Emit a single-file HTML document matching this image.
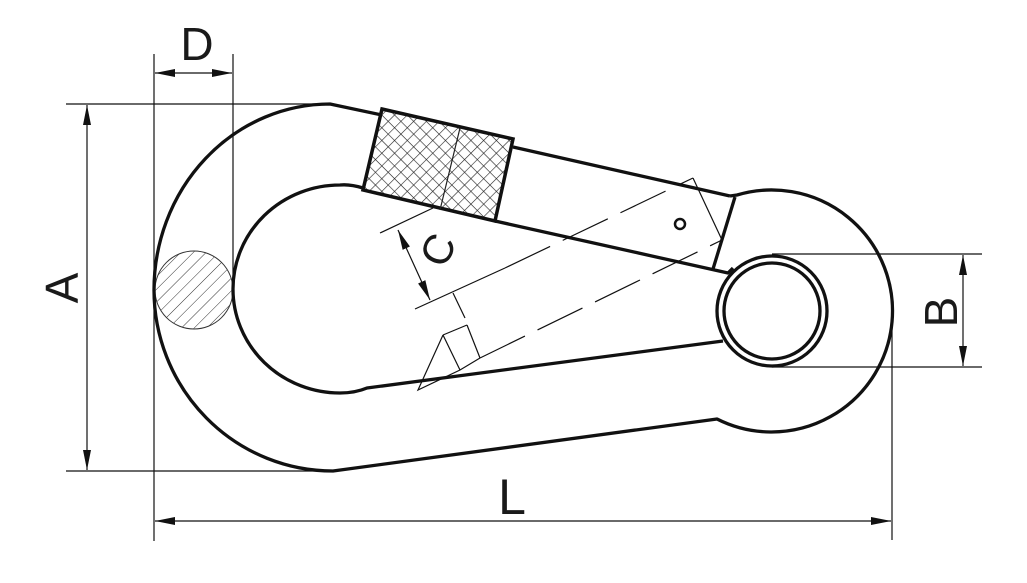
<!DOCTYPE html>
<html><head><meta charset="utf-8"><style>
html,body{margin:0;padding:0;background:#fff;}
svg{display:block;}
text{font-family:"Liberation Sans",sans-serif;fill:#1a1a1a;}
</style></head><body>
<svg width="1027" height="583" viewBox="0 0 1027 583" xmlns="http://www.w3.org/2000/svg">
<defs>
<pattern id="cross" width="9" height="9" patternUnits="userSpaceOnUse" patternTransform="rotate(45)">
<path d="M0,0 L0,9 M0,0 L9,0" stroke="#222" stroke-width="1.2"/>
</pattern>
<pattern id="hatch" width="9" height="9" patternUnits="userSpaceOnUse" patternTransform="rotate(45)">
<path d="M0,0 L0,9" stroke="#333" stroke-width="1"/>
</pattern>
<marker id="ar" viewBox="0 0 20 8" refX="20" refY="4" markerWidth="20" markerHeight="8" markerUnits="userSpaceOnUse" orient="auto-start-reverse">
<path d="M0,0 L20,4 L0,8 Z" fill="#111"/>
</marker>
</defs>

<g stroke="#111" stroke-width="1.2" fill="none">
<line x1="154" y1="54" x2="154" y2="541"/>
<line x1="233" y1="54" x2="233" y2="290"/>
<line x1="66" y1="104" x2="330" y2="104"/>
<line x1="66" y1="471" x2="333" y2="471"/>
<line x1="772" y1="254" x2="982" y2="254"/>
<line x1="772" y1="367" x2="982" y2="367"/>
<line x1="892" y1="312" x2="892" y2="540"/>
<line x1="155" y1="73" x2="232" y2="73" marker-start="url(#ar)" marker-end="url(#ar)"/>
<line x1="87" y1="105" x2="87" y2="470" marker-start="url(#ar)" marker-end="url(#ar)"/>
<line x1="963" y1="255" x2="963" y2="366" marker-start="url(#ar)" marker-end="url(#ar)"/>
<line x1="155" y1="521" x2="891" y2="521" marker-start="url(#ar)" marker-end="url(#ar)"/>
<line x1="398" y1="230" x2="430" y2="300" marker-start="url(#ar)" marker-end="url(#ar)"/>
<line x1="380" y1="233" x2="433" y2="208"/>
<line x1="415" y1="309" x2="505" y2="268"/>
<line x1="693" y1="178" x2="722" y2="240"/>
<line x1="453" y1="293" x2="465" y2="318"/>
<line x1="443" y1="335" x2="467" y2="325"/>
<line x1="467" y1="325" x2="480" y2="358"/>
<line x1="443" y1="335" x2="460" y2="370"/>
<polyline points="443,335 418,390 460,370 480,358"/>
</g>
<g stroke="#111" stroke-width="1.2" fill="none" stroke-dasharray="50,14">
<line x1="505" y1="268" x2="693" y2="178"/>
<line x1="480" y1="358" x2="722" y2="240"/>
</g>

<circle cx="194" cy="290" r="39" fill="url(#hatch)" stroke="#333" stroke-width="1"/>

<polygon points="382,109 513,139 495,221 363,190" fill="url(#cross)" stroke="#111" stroke-width="3.5"/>
<line x1="460" y1="128" x2="440" y2="210" stroke="#222" stroke-width="1.2"/>

<g stroke="#111" stroke-width="3.3" fill="none" stroke-linejoin="round">
<path d="M382,115 L330,104 A176,186 0 0 0 154,290 A179,181 0 0 0 333,471 L717,419 A121,121 0 1 0 737,195 L730,196"/>
<path d="M513,147 L730,196"/>
<path d="M735,197 L713,269"/>
<path d="M495,221 L728,273 L733,268"/>
<path d="M363,188 Q350,184 340,185 A107,104 0 0 0 340,393 Q355,393 367,388 L723,341"/>
<circle cx="772" cy="311" r="55"/>
<circle cx="772" cy="311" r="48"/>
<circle cx="680" cy="224" r="5" stroke-width="2.5"/>
</g>

<text x="197" y="60" font-size="46" text-anchor="middle">D</text>
<text x="512" y="514" font-size="50" text-anchor="middle">L</text>
<text transform="translate(78,288) rotate(-90)" font-size="46" text-anchor="middle">A</text>
<text transform="translate(957,312) rotate(-90)" font-size="46" text-anchor="middle">B</text>
<text transform="translate(451,256) rotate(-65)" font-size="42" text-anchor="middle">C</text>
</svg>
</body></html>
